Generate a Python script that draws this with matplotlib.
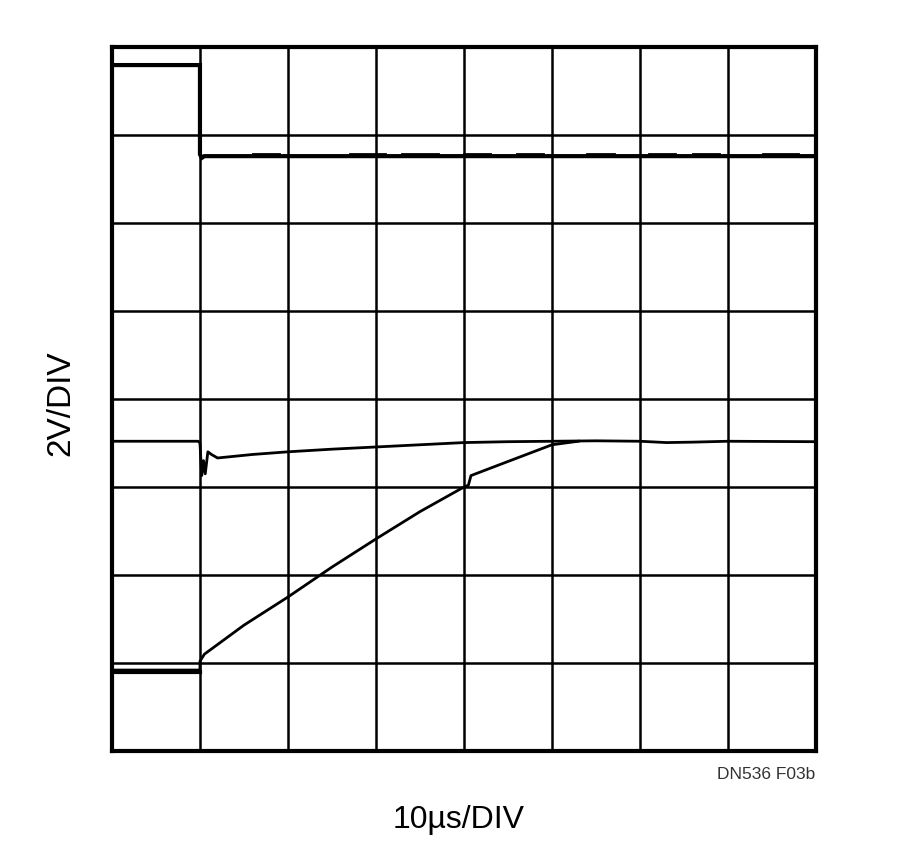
import numpy as np
import matplotlib.pyplot as plt

# scope traces, in divisions (x: 10us/div, y: 2V/div, 0 = bottom of screen)
top_x = [0.03, 1.0, 1.0, 1.02, 1.05, 8.0]
top_y = [7.795, 7.795, 6.78, 6.74, 6.76, 6.76]

mid_x = [0.0, 0.98, 1.0, 1.02, 1.04, 1.06, 1.09, 1.13, 1.2, 1.3, 1.6, 2.0, 2.5, 3.0, 3.5,
         4.0, 4.5, 5.0, 5.5, 6.0, 6.3, 6.6, 7.0, 8.0]
mid_y = [3.52, 3.52, 3.50, 3.13, 3.30, 3.15, 3.40, 3.37, 3.33, 3.34, 3.37, 3.40, 3.43, 3.455, 3.48,
         3.505, 3.515, 3.52, 3.525, 3.52, 3.505, 3.51, 3.52, 3.515]

low_x = [0.03, 1.0, 1.0, 1.05, 1.5, 2.0, 2.5, 3.0, 3.5, 4.0, 4.05, 4.08, 4.5, 5.0, 5.3]
low_y = [0.92, 0.92, 1.02, 1.10, 1.43, 1.75, 2.09, 2.41, 2.72, 3.0, 3.02, 3.13, 3.29, 3.48, 3.52]

# small noise blips on the top trace (start, end, height)
blips = [(1.6, 1.9, 6.785), (2.7, 3.1, 6.79), (3.3, 3.7, 6.79), (4.0, 4.3, 6.785),
         (4.6, 4.9, 6.78), (5.4, 5.7, 6.79), (6.1, 6.4, 6.785), (6.6, 6.9, 6.78), (7.4, 7.8, 6.785)]

plt.rcParams['font.family'] = ['Liberation Sans', 'DejaVu Sans']

fig = plt.figure(figsize=(9, 8.53), dpi=100)
ax = fig.add_axes([0.1244, 0.1184, 0.7822, 0.8253])

ax.plot(top_x, top_y, color='black', lw=3.0, solid_joinstyle='miter')
for b in blips:
    ax.plot([b[0], b[1]], [b[2], b[2]], color='black', lw=2.0)
ax.plot(mid_x, mid_y, color='black', lw=2.0)
ax.plot(low_x, low_y, color='black', lw=2.0)
ax.plot([0.03, 1.0], [0.9, 0.9], color='black', lw=3.0)

ax.set_xlim(0, 8)
ax.set_ylim(0, 8)
ax.set_xticks(np.arange(1, 8))
ax.set_yticks(np.arange(1, 8))
ax.grid(True, color='black', lw=1.8)
ax.tick_params(length=0, labelbottom=False, labelleft=False)
for s in ax.spines.values():
    s.set_linewidth(3.0)

fig.text(0.068, 0.5276, '2V/DIV', rotation=90, ha='center', va='center', fontsize=24)
fig.text(0.5094, 0.0293, '10\u00b5s/DIV', ha='center', va='baseline', fontsize=23)
fig.text(0.906, 0.0868, 'DN536 F03b', ha='right', va='baseline', fontsize=12.5, color='#333333')

fig.savefig('out.png', dpi=100)
